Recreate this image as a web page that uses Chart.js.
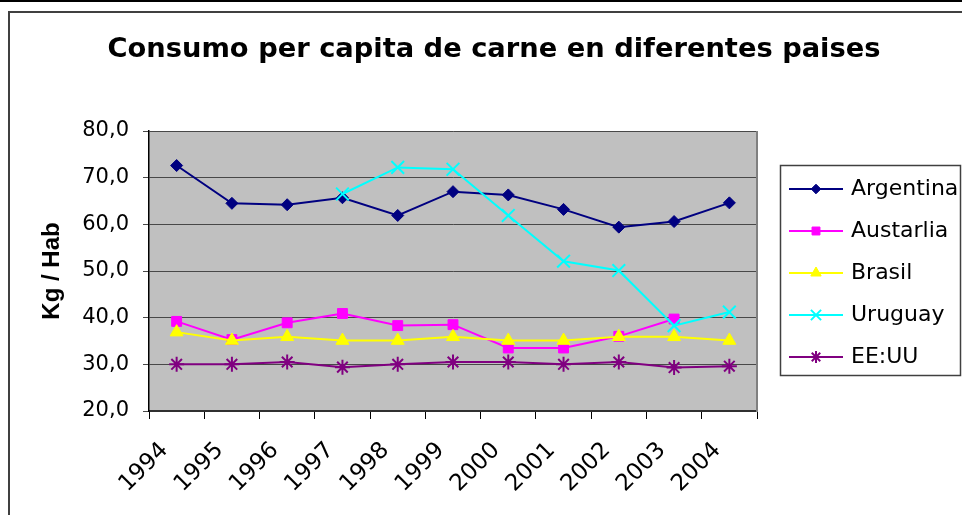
<!DOCTYPE html>
<html>
<head>
<meta charset="utf-8">
<script src="https://cdn.jsdelivr.net/npm/chart.js@4.4.1/dist/chart.umd.min.js"></script>
<style>
  html, body { margin: 0; padding: 0; background: #fff; }
  #wrap { width: 962px; height: 515px; }
</style>
</head>
<body>
<div id="wrap"><canvas id="meatChart" width="962" height="515"></canvas></div>
<script>
// --- Data (kg per inhabitant) ---
const years = ['1994', '1995', '1996', '1997', '1998', '1999', '2000', '2001', '2002', '2003', '2004'];
const argentina = [72.6, 64.5, 64.2, 65.7, 61.9, 67.0, 66.3, 63.2, 59.4, 60.6, 64.6];
const australia = [39.2, 35.3, 38.9, 40.9, 38.3, 38.5, 33.5, 33.5, 36.0, 39.7, null];
const brasil = [36.9, 35.1, 35.9, 35.1, 35.1, 35.9, 35.1, 35.1, 35.9, 35.9, 35.1];
const uruguay = [null, null, null, 66.5, 72.2, 71.8, 61.9, 52.1, 50.1, 38.3, 41.2];
const eeuu = [30.0, 30.0, 30.5, 29.4, 30.0, 30.5, 30.5, 30.0, 30.5, 29.3, 29.6];
const yTicks = [20, 30, 40, 50, 60, 70, 80];
const chartTitle = 'Consumo per capita de carne en diferentes paises';

Chart.defaults.font.family = "'DejaVu Sans', sans-serif";
Chart.defaults.color = '#000';

function series(label, data, color, style, radius, bw, order) {
    return {
        label: label,
        data: data,
        borderColor: color,
        backgroundColor: color,
        borderWidth: 2,
        pointStyle: style,
        pointRadius: radius,
        pointBackgroundColor: color,
        pointBorderColor: color,
        pointBorderWidth: bw,
        tension: 0,
        spanGaps: false,
        order: order
    };
}

// page frame, title + grey plot area
const framePlugin = {
    id: 'frame',
    beforeDraw(chart) {
        const { ctx, chartArea: a } = chart;
        ctx.save();
        ctx.fillStyle = '#fff';
        ctx.fillRect(0, 0, chart.width, chart.height);
        ctx.fillStyle = '#000';
        ctx.fillRect(0, 0, chart.width, 2);
        ctx.fillStyle = '#404040';
        ctx.fillRect(8, 11, chart.width - 8, 2);
        ctx.fillRect(8, 11, 2, chart.height - 11);
        ctx.fillStyle = '#c0c0c0';
        ctx.fillRect(a.left, a.top, a.right - a.left, a.bottom - a.top);
        // title, centred on the whole frame
        ctx.fillStyle = '#000';
        ctx.font = "bold 27.3px 'DejaVu Sans'";
        ctx.textAlign = 'center';
        ctx.textBaseline = 'middle';
        ctx.fillText(chartTitle, 494, 50);
        ctx.restore();
    },
    afterDraw(chart) {
        const { ctx, chartArea: a } = chart;
        ctx.save();
        ctx.fillStyle = '#808080';
        ctx.fillRect(a.right - 1, a.top, 2, a.bottom - a.top + 1);
        ctx.restore();
    }
};

// Excel style legend box on the right
const boxLegend = {
    id: 'boxLegend',
    afterDraw(chart) {
        const ctx = chart.ctx;
        const x0 = 780, y0 = 165, w = 180, h = 210, step = 42;
        ctx.save();
        ctx.fillStyle = '#fff';
        ctx.fillRect(x0, y0, w, h);
        ctx.strokeStyle = '#404040';
        ctx.lineWidth = 1.5;
        ctx.strokeRect(x0 + 0.5, y0 + 0.5, w, h);
        chart.data.datasets.forEach((ds, i) => {
            const y = y0 + 24 + i * step;
            ctx.strokeStyle = ds.borderColor;
            ctx.lineWidth = 2;
            ctx.beginPath();
            ctx.moveTo(789, y);
            ctx.lineTo(843, y);
            ctx.stroke();
            ctx.fillStyle = ds.pointBackgroundColor;
            ctx.lineWidth = ds.pointBorderWidth;
            Chart.helpers.drawPoint(ctx, {
                pointStyle: ds.pointStyle,
                radius: ds.pointRadius * 0.8,
                rotation: 0,
                borderWidth: ds.pointBorderWidth
            }, 816, y);
            ctx.fillStyle = '#000';
            ctx.font = "22px 'DejaVu Sans'";
            ctx.textBaseline = 'middle';
            ctx.textAlign = 'left';
            ctx.fillText(ds.label, 851, y);
        });
        ctx.restore();
    }
};

new Chart(document.getElementById('meatChart'), {
    type: 'line',
    data: {
        labels: years,
        datasets: [
            series('Argentina', argentina, '#000080', 'rectRot', 6, 1, 5),
            series('Austarlia', australia, '#ff00ff', 'rect', 7, 1, 4),
            series('Brasil', brasil, '#ffff00', 'triangle', 7.5, 1, 3),
            series('Uruguay', uruguay, '#00ffff', 'crossRot', 9, 2, 2),
            series('EE:UU', eeuu, '#800080', 'star', 7.5, 2, 1)
        ]
    },
    options: {
        responsive: false,
        animation: false,
        events: [],
        layout: { padding: { top: 131, right: 205 } },
        plugins: {
            legend: { display: false },
            tooltip: { enabled: false },
            title: { display: false }
        },
        scales: {
            x: {
                type: 'category',
                offset: true,
                grid: { offset: true, drawOnChartArea: false, tickLength: 8, color: '#000' },
                border: { color: '#303030', width: 2 },
                ticks: {
                    minRotation: 45, maxRotation: 45, autoSkip: false,
                    padding: 18, labelOffset: -12,
                    font: { size: 23 }, color: '#000'
                },
                afterFit: s => { s.height = 104; }
            },
            y: {
                min: yTicks[0],
                max: yTicks[yTicks.length - 1],
                afterBuildTicks: s => { s.ticks = yTicks.map(v => ({ value: v })); },
                grid: { color: '#484848', tickLength: 6 },
                border: { color: '#000', width: 1.5 },
                ticks: {
                    padding: 14,
                    font: { size: 21 },
                    color: '#000',
                    callback: v => v.toFixed(1).replace('.', ',')
                },
                title: {
                    display: true,
                    text: 'Kg / Hab',
                    color: '#000',
                    font: { family: "'Liberation Sans', Arial", size: 24, weight: 'bold' },
                    padding: { top: 38 }
                },
                afterFit: s => { s.width = 149; }
            }
        }
    },
    plugins: [framePlugin, boxLegend]
});
</script>
</body>
</html>
